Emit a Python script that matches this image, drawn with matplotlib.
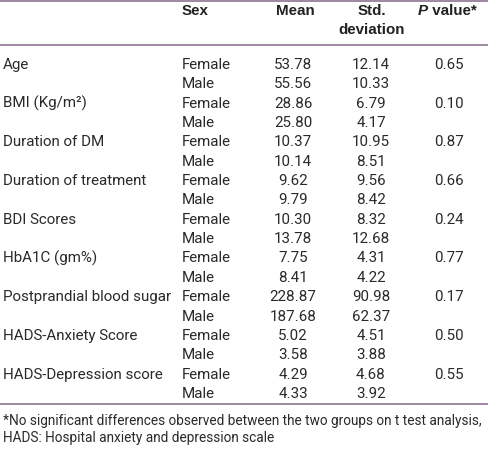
import matplotlib
matplotlib.use("Agg")
import matplotlib.pyplot as plt

variables = ["Age", "BMI (Kg/m\u00b2)", "Duration of DM", "Duration of treatment",
             "BDI Scores", "HbA1C (gm%)", "Postprandial blood sugar",
             "HADS-Anxiety Score", "HADS-Depression score"]
sexes = ["Female", "Male"]
means = [["53.78", "55.56"], ["28.86", "25.80"], ["10.37", "10.14"], ["9.62", "9.79"],
         ["10.30", "13.78"], ["7.75", "8.41"], ["228.87", "187.68"],
         ["5.02", "3.58"], ["4.29", "4.33"]]
sds = [["12.14", "10.33"], ["6.79", "4.17"], ["10.95", "8.51"], ["9.56", "8.42"],
       ["8.32", "12.68"], ["4.31", "4.22"], ["90.98", "62.37"],
       ["4.51", "3.88"], ["4.68", "3.92"]]
pvalues = ["0.65", "0.10", "0.87", "0.66", "0.24", "0.77", "0.17", "0.50", "0.55"]
footnote = ["*No significant differences observed between the two groups on t test analysis,",
            "HADS: Hospital anxiety and depression scale"]

W, H = 488, 449
fig = plt.figure(figsize=(W / 100, H / 100), dpi=100)
ax = fig.add_axes([0, 0, 1, 1])
ax.set_xlim(0, W)
ax.set_ylim(H, 0)
ax.axis("off")

body = dict(family="Roboto", fontsize=10.9, color="#2a2a2a", va="center")
head = dict(family="Liberation Sans", fontsize=10.9, color="#222222", fontweight="bold", va="center")
line_c = "#8b7490"

# header
ax.text(182, 11, "Sex", ha="left", **head)
ax.text(295, 11, "Mean", ha="center", **head)
ax.text(372, 11, "Std.", ha="center", **head)
ax.text(372, 30, "deviation", ha="center", **head)
ax.text(428, 11, "P", ha="right", fontstyle="italic", **head)
ax.text(428, 11, " value*", ha="left", **head)

ax.axhline(1, color=line_c, lw=1.2)
ax.axhline(45, color=line_c, lw=1.2)
ax.axhline(403.5, color=line_c, lw=1.2)

y0, dy = 65, 19.35
for i, var in enumerate(variables):
    for j, sx in enumerate(sexes):
        y = y0 + (2 * i + j) * dy
        if j == 0:
            ax.text(3, y, var, ha="left", **body)
            ax.text(449, y, pvalues[i], ha="center", **body)
        ax.text(182, y, sx, ha="left", **body)
        ax.text(293, y, means[i][j], ha="center", **body)
        ax.text(371, y, sds[i][j], ha="center", **body)

foot = dict(family="Roboto", fontsize=9.8, color="#2a2a2a", va="center", ha="left")
ax.text(3, 421, footnote[0], **foot)
ax.text(3, 438, footnote[1], **foot)

fig.savefig("out.png", dpi=100, facecolor="white")
